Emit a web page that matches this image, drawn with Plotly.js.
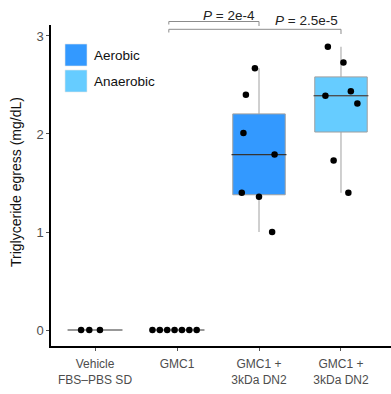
<!DOCTYPE html>
<html>
<head>
<meta charset="utf-8">
<script src="https://cdn.plot.ly/plotly-3.0.1.min.js"></script>
<style>html,body{margin:0;padding:0;background:#fff;}#chart{width:391px;height:394px;}</style>
</head>
<body>
<div id="chart"></div>
<script>
// ---- data ----
var tickLabels = ["Vehicle<br>FBS\u2013PBS SD", "GMC1", "GMC1 +<br>3kDa DN2", "GMC1 +<br>3kDa DN2"];
var vehicle   = [0, 0, 0];
var gmc1      = [0, 0, 0, 0, 0, 0, 0];
var aerobic   = [2.67, 2.40, 2.01, 1.79, 1.40, 1.36, 1.00];
var anaerobic = [2.89, 2.73, 2.435, 2.39, 2.31, 1.73, 1.40];
// horizontal jitter (category units)
var jitVehicle   = [-0.17, -0.07, 0.06];
var jitGmc1      = [-0.30, -0.21, -0.12, -0.03, 0.06, 0.15, 0.24];
var jitAerobic   = [-0.05, -0.16, -0.19, 0.19, -0.21, 0.00, 0.16];
var jitAnaerobic = [-0.16, 0.03, 0.12, -0.19, 0.20, -0.09, 0.09];
var legendNames = ["Aerobic", "Anaerobic"];
var pLabels = ["<i>P</i> = 2e-4", "<i>P</i> = 2.5e-5"];

var groups = [vehicle, gmc1, aerobic, anaerobic];
var jitters = [jitVehicle, jitGmc1, jitAerobic, jitAnaerobic];
var colors = ["#3399FF", "#66CCFF"];

function quant(arr, p) {
  var s = arr.slice().sort(function(a,b){return a-b;});
  var h = (s.length - 1) * p, lo = Math.floor(h), hi = Math.ceil(h);
  return s[lo] + (s[hi] - s[lo]) * (h - lo);
}
function stats(arr) {
  var q1 = quant(arr, 0.25), med = quant(arr, 0.5), q3 = quant(arr, 0.75);
  var iqr = q3 - q1;
  var inside = arr.filter(function(v){return v >= q1 - 1.5*iqr && v <= q3 + 1.5*iqr;});
  return {q1: q1, med: med, q3: q3,
          lo: Math.min.apply(null, inside), hi: Math.max.apply(null, inside)};
}

var traces = [];
var BW = 0.64;
// coloured boxes
[aerobic, anaerobic].forEach(function(arr, i) {
  var s = stats(arr);
  traces.push({
    type: "box", x: [i + 2], q1: [s.q1], median: [s.med], q3: [s.q3],
    lowerfence: [s.lo], upperfence: [s.hi],
    fillcolor: colors[i], line: {color: "#A0A0A0", width: 1},
    whiskerwidth: 0, width: BW, boxpoints: false, showlegend: false, hoverinfo: "skip"
  });
});
// dark median lines for every group
var medX = [], medV = [];
groups.forEach(function(arr, i){ medX.push(i); medV.push(stats(arr).med); });
traces.push({
  type: "box", x: medX, q1: medV, median: medV, q3: medV,
  lowerfence: medV, upperfence: medV,
  fillcolor: "rgba(0,0,0,0)", line: {color: "#333333", width: 1.2},
  whiskerwidth: 0, width: BW + 0.03, boxpoints: false, showlegend: false, hoverinfo: "skip"
});
// points
groups.forEach(function(arr, i) {
  traces.push({
    type: "scatter", mode: "markers",
    x: arr.map(function(v, k){ return i + jitters[i][k]; }),
    y: arr,
    marker: {color: "#000000", size: 6.5},
    showlegend: false, hoverinfo: "skip", cliponaxis: false
  });
});

// ---- layout helpers (pixel -> paper) ----
var L = 51, R = 391, T = 25, B = 346;
var W = 391, H = 394;
function px(x){ return (x - L) / (R - L); }
function py(y){ return (B - y) / (B - T); }
var xr = [-0.537, 3.61];
function dx(x){ return (x - xr[0]) / (xr[1] - xr[0]); }

var shapes = [];
var annotations = [];
// legend
legendNames.forEach(function(n, i) {
  var top = 44 + i * 26;
  shapes.push({type: "rect", xref: "paper", yref: "paper",
    x0: px(65), x1: px(87), y0: py(top), y1: py(top + 22),
    fillcolor: colors[i], line: {color: "#E6E6E6", width: 0.6}});
  annotations.push({xref: "paper", yref: "paper", x: px(92), y: py(top + 11),
    xanchor: "left", yanchor: "middle", text: n, showarrow: false,
    font: {size: 13.5, color: "#111"}});
});
// significance brackets
var brStart = [0.9, 0.9], brEnd = [2.0, 3.0];
var brY = [21.5, 29.3], brDropL = [24.5, 32.5], brDropR = [26, 34];
var labelX = [229, 306], labelY = [15.5, 20];
for (var i = 0; i < 2; i++) {
  var a = dx(brStart[i]), b = dx(brEnd[i]);
  shapes.push({type: "path", xref: "paper", yref: "paper",
    path: "M " + a + " " + py(brDropL[i]) + " L " + a + " " + py(brY[i]) +
          " L " + b + " " + py(brY[i]) + " L " + b + " " + py(brDropR[i]),
    line: {color: "#8C8C8C", width: 1}});
  annotations.push({xref: "paper", yref: "paper", x: px(labelX[i]), y: py(labelY[i]),
    xanchor: "center", yanchor: "middle", text: pLabels[i], showarrow: false,
    font: {size: 13.5, color: "#222"}});
}
// y title
annotations.push({xref: "paper", yref: "paper", x: px(16), y: py(182),
  xanchor: "center", yanchor: "middle", textangle: -90, showarrow: false,
  text: "Triglyceride egress (mg/dL)", font: {size: 14, color: "#111"}});

var layout = {
  width: W, height: H,
  margin: {l: L, r: W - R, t: T, b: H - B, pad: 0},
  paper_bgcolor: "#fff", plot_bgcolor: "#fff",
  font: {family: "Liberation Sans, Arial, sans-serif"},
  boxmode: "overlay",
  showlegend: false,
  xaxis: {range: xr, tickvals: [0, 1, 2, 3], ticktext: tickLabels,
    showline: true, linecolor: "#000", linewidth: 1.6, zeroline: false, showgrid: false,
    ticks: "outside", ticklen: 3, tickcolor: "#555", tickwidth: 1, ticklabelstandoff: 3,
    tickfont: {size: 12, color: "#4D4D4D"}, fixedrange: true},
  yaxis: {range: [-0.163, 3.112], tickvals: [0, 1, 2, 3],
    showline: true, linecolor: "#000", linewidth: 1.6, zeroline: false, showgrid: false,
    ticks: "outside", ticklen: 3, tickcolor: "#555", tickwidth: 1,
    tickfont: {size: 13, color: "#4D4D4D"}, fixedrange: true},
  shapes: shapes,
  annotations: annotations
};

Plotly.newPlot("chart", traces, layout, {displayModeBar: false, staticPlot: true});
</script>
</body>
</html>
